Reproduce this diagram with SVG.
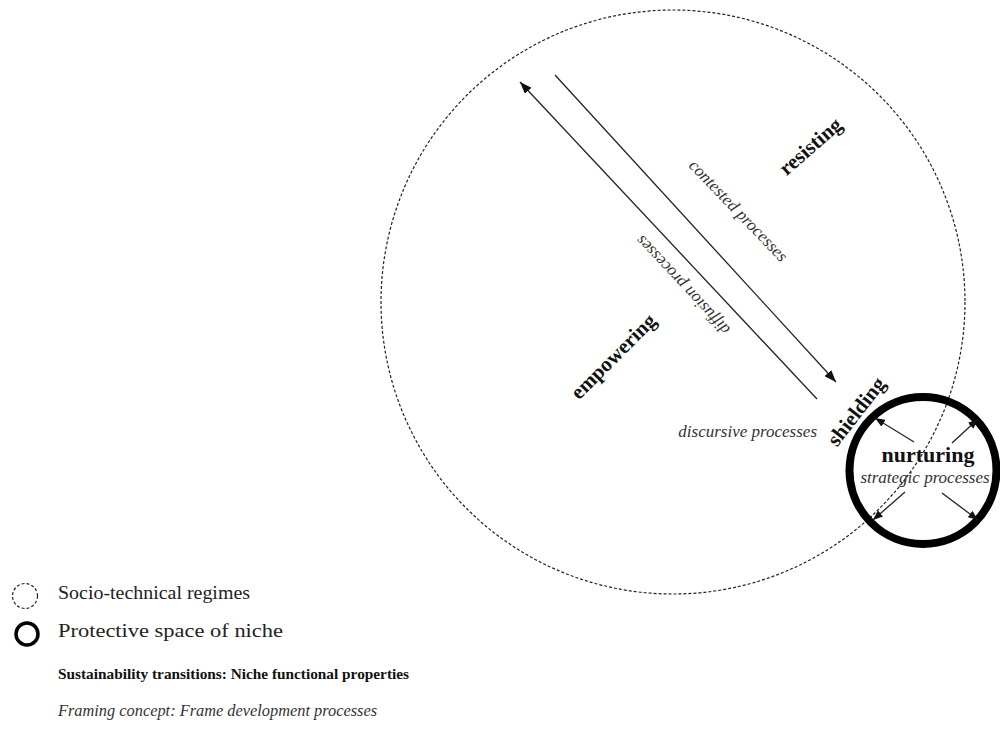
<svg xmlns="http://www.w3.org/2000/svg" width="1000" height="731" viewBox="0 0 1000 731">
<style>
.bg{fill:#ffffff}
.regime{fill:none;stroke:#222;stroke-width:1.2;stroke-dasharray:3 2}
.niche{fill:none;stroke:#000;stroke-width:8}
.conn{stroke:#222;stroke-width:1.3;fill:none}
.bold{font-family:"Liberation Serif",serif;font-weight:bold;fill:#111}
.ital{font-family:"Liberation Serif",serif;font-style:italic;fill:#333}
.reg{font-family:"Liberation Serif",serif;fill:#222}
</style>
<defs>
<marker id="head" markerUnits="userSpaceOnUse" markerWidth="13" markerHeight="9" refX="12" refY="4.5" orient="auto">
<path d="M0,0 L12,4.5 L0,9 z" fill="#111"/>
</marker>
<marker id="headS" markerUnits="userSpaceOnUse" markerWidth="11" markerHeight="8" refX="10" refY="4" orient="auto">
<path d="M0,0 L10,4 L0,8 z" fill="#111"/>
</marker>
</defs>
<rect class="bg" x="0" y="0" width="1000" height="731"/>

<g id="regime">
<circle class="regime" cx="673" cy="302" r="292"/>
</g>

<g id="niche">
<circle class="niche" cx="923" cy="470.5" r="73.5"/>
</g>

<g id="connectors">
<line class="conn" x1="817" y1="399" x2="520" y2="82" marker-end="url(#head)"/>
<line class="conn" x1="555" y1="75" x2="836" y2="382" marker-end="url(#head)"/>
<line class="conn" x1="914" y1="442" x2="875" y2="418" marker-end="url(#headS)"/>
<line class="conn" x1="952" y1="443" x2="978" y2="419" marker-end="url(#headS)"/>
<line class="conn" x1="905" y1="492" x2="873" y2="520" marker-end="url(#headS)"/>
<line class="conn" x1="942" y1="493" x2="978" y2="520" marker-end="url(#headS)"/>
</g>

<g id="labels">
<text class="bold" font-size="21" text-anchor="middle" transform="translate(811,147) rotate(-41)" y="6">resisting</text>
<text class="bold" font-size="21" text-anchor="middle" transform="translate(614,357) rotate(-45)" y="6">empowering</text>
<text class="bold" font-size="21" text-anchor="middle" transform="translate(857,412) rotate(-52)" y="6">shielding</text>
<text class="ital" font-size="17" text-anchor="middle" transform="translate(738,211) rotate(46)" y="5">contested processes</text>
<text class="ital" font-size="17" text-anchor="middle" transform="translate(683,285) rotate(227)" y="5">diffusion processes</text>
<text class="ital" font-size="17" text-anchor="end" x="817" y="437">discursive processes</text>
<text class="bold" font-size="22" text-anchor="middle" x="928" y="462">nurturing</text>
<text class="ital" font-size="17" text-anchor="middle" x="925" y="483">strategic processes</text>
</g>

<g id="legend">
<circle class="regime" cx="25" cy="596" r="12.5"/>
<circle fill="none" stroke="#000" stroke-width="3.5" cx="27" cy="634" r="11"/>
<text class="reg" font-size="18" x="58" y="599" textLength="192" lengthAdjust="spacingAndGlyphs">Socio-technical regimes</text>
<text class="reg" font-size="18" x="58" y="637" textLength="225" lengthAdjust="spacingAndGlyphs">Protective space of niche</text>
<text class="bold" font-size="15" x="58" y="679" textLength="351" lengthAdjust="spacingAndGlyphs">Sustainability transitions: Niche functional properties</text>
<text class="ital" font-size="16" x="58" y="716" textLength="319" lengthAdjust="spacingAndGlyphs">Framing concept: Frame development processes</text>
</g>
</svg>
